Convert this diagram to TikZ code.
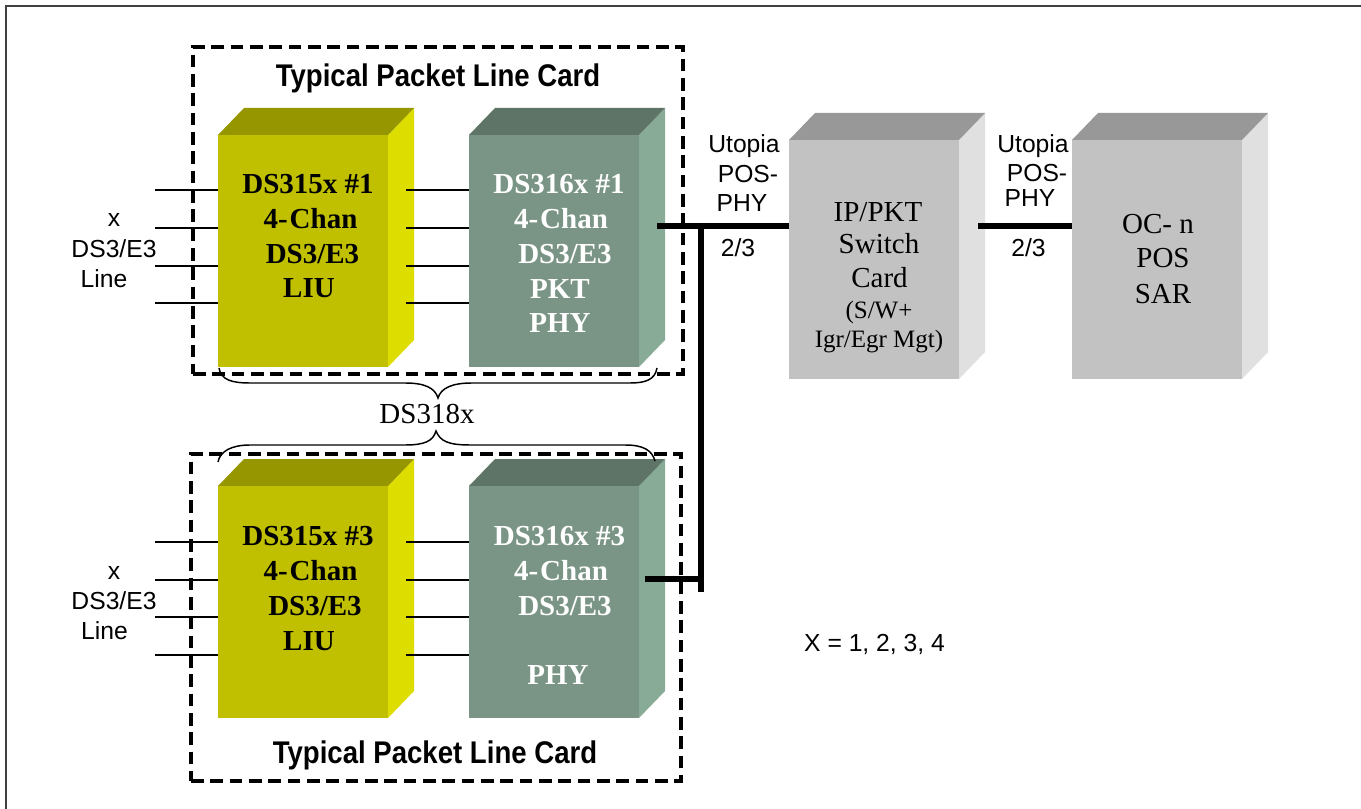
\documentclass[tikz,border=0pt]{standalone}
\usepackage{graphicx}
\usepackage{fontspec}
\setmainfont{Liberation Serif}
\newfontfamily\arialf{Liberation Sans}
\definecolor{yfront}{HTML}{C0C000}
\definecolor{yside}{HTML}{DDDD00}
\definecolor{ytop}{HTML}{969600}
\definecolor{gfront}{HTML}{7A9585}
\definecolor{gside}{HTML}{88AB97}
\definecolor{gtop}{HTML}{5E7466}
\definecolor{sfront}{HTML}{C2C2C2}
\definecolor{sside}{HTML}{E0E0E0}
\definecolor{stop}{HTML}{989898}
\definecolor{framec}{HTML}{404040}
\tikzset{
  front/.style={rectangle,inner sep=0pt,outer sep=0pt,anchor=north west,minimum width=127.5pt},
  txt/.style={inner sep=0pt,outer sep=0pt,anchor=base},
  chipb/.style={txt,font=\bfseries\fontsize{21.75}{26}\selectfont,text=black},
  chipw/.style={txt,font=\bfseries\fontsize{21.75}{26}\selectfont,text=white},
  chipn/.style={txt,font=\fontsize{21.75}{26}\selectfont,text=black},
  small/.style={txt,font=\fontsize{18.75}{23}\selectfont,text=black},
  sans/.style={txt,font=\arialf\fontsize{18.5}{22}\selectfont,text=black},
  head/.style={txt,font=\arialf\bfseries\fontsize{23.5}{28}\selectfont,text=black},
  thin line/.style={draw=black,line width=1.1pt},
  thick line/.style={draw=black,line width=4.6pt},
  card/.style={draw=black,line width=2.4pt,dash pattern=on 9.5pt off 5pt},
  brace/.style={draw=black,line width=1.1pt},
}
% \chipblock{name}{x}{y front top}{height px}{front}{side}{top}
\newcommand{\chipblock}[7]{%
  \fill[#6] (#2+170,#3) -- (#2+196,#3-27) -- (#2+196,#3+#4-27) -- (#2+170,#3+#4) -- cycle;
  \fill[#7] (#2,#3) -- (#2+26,#3-27) -- (#2+196,#3-27) -- (#2+170,#3) -- cycle;
  \node[front,fill=#5,minimum height=#4*.75pt] (#1) at (#2,#3) {};
}
\begin{document}
\begin{tikzpicture}[x=.75pt,y=-.75pt]
\useasboundingbox (0,0) rectangle (1361,809);
\fill[white] (0,0) rectangle (1361,809);
% outer frame
\coordinate (fa) at (5.5,809);
\coordinate (fb) at (5.5,6);
\coordinate (fc) at (1361,6);
\draw[framec,line width=1.5pt] (fa) -- (fb) -- (fc);
% blocks
\chipblock{y1}{218}{135}{232}{yfront}{yside}{ytop}
\chipblock{g1}{469}{135}{232}{gfront}{gside}{gtop}
\chipblock{y3}{218}{486}{232}{yfront}{yside}{ytop}
\chipblock{g3}{469}{486}{232}{gfront}{gside}{gtop}
\chipblock{sw}{789}{140}{239}{sfront}{sside}{stop}
\chipblock{sar}{1072}{140}{239}{sfront}{sside}{stop}
% dashed cards
\node[inner sep=0pt,outer sep=0pt,card,anchor=north west,minimum width=367.5pt,minimum height=245.25pt] (card1) at (193,47) {};
\node[inner sep=0pt,outer sep=0pt,card,anchor=north west,minimum width=367.5pt,minimum height=245.25pt] (card3) at (191,454) {};
% line stubs
\foreach \n/\yy in {a/190,b/228,c/266,d/303}{
  \coordinate (l1\n) at (155,\yy);
  \coordinate (m1\n) at (406,\yy);
  \draw[thin line] (l1\n) -- (y1.west |- l1\n);
  \draw[thin line] (m1\n) -- (g1.west |- m1\n);
}
\foreach \n/\yy in {a/542,b/580,c/617,d/655}{
  \coordinate (l3\n) at (155,\yy);
  \coordinate (m3\n) at (406,\yy);
  \draw[thin line] (l3\n) -- (y3.west |- l3\n);
  \draw[thin line] (m3\n) -- (g3.west |- m3\n);
}
% thick buses
\coordinate (t1) at (657,226);
\coordinate (j1) at (701,226);
\coordinate (jend) at (701,591.5);
\coordinate (t3) at (645,579);
\coordinate (t2) at (978,226);
\draw[thick line] (t1) -- (sw.west |- t1);
\draw[thick line] (j1) -- (jend);
\draw[thick line] (t3) -- (j1 |- t3);
\draw[thick line] (t2) -- (sar.west |- t2);
% braces
\coordinate (b1l) at (219,368);
\coordinate (b1t) at (438,398);
\coordinate (b1r) at (657,368);
\draw[brace] (b1l) .. controls (221,380) and (232,383) .. (250,383) -- (405,383) .. controls (425,383) and (435,388) .. (b1t) .. controls (441,388) and (452,383) .. (472,383) -- (630,383) .. controls (645,383) and (655,380) .. (b1r);
\coordinate (b3l) at (218,462);
\coordinate (b3t) at (436,431);
\coordinate (b3r) at (655,461);
\draw[brace] (b3l) .. controls (220,451) and (232,445) .. (250,445) -- (405,445) .. controls (425,445) and (433,441) .. (b3t) .. controls (440,441) and (448,445) .. (470,445) -- (625,445) .. controls (643,445) and (652,450) .. (b3r);
% texts
\node[head] (h1) at (438,87) {\scalebox{.88}[1]{Typical Packet Line Card}};
\node[head] (h3) at (435,763) {\scalebox{.88}[1]{Typical Packet Line Card}};
\node[chipb] (y1a) at (308,193.5) {DS315x \#1};
\node[chipb] (y1b) at (310.5,228.5) {4-\kern1.5pt Chan};
\node[chipb] (y1c) at (312.5,263.5) {DS3/E3};
\node[chipb] (y1d) at (309,297.5) {LIU};
\node[chipw] (g1a) at (559,193.5) {DS316x \#1};
\node[chipw] (g1b) at (561,228.5) {4-\kern1.5pt Chan};
\node[chipw] (g1c) at (565,263.5) {DS3/E3};
\node[chipw] (g1d) at (560,299) {PKT};
\node[chipw] (g1e) at (560,332.5) {PHY};
\node[chipb] (y3a) at (308,545) {DS315x \#3};
\node[chipb] (y3b) at (310.5,580) {4-\kern1.5pt Chan};
\node[chipb] (y3c) at (315,615) {DS3/E3};
\node[chipb] (y3d) at (309,650) {LIU};
\node[chipw] (g3a) at (559.5,545) {DS316x \#3};
\node[chipw] (g3b) at (561,580) {4-\kern1.5pt Chan};
\node[chipw] (g3c) at (565,615) {DS3/E3};
\node[chipw] (g3d) at (558,684) {PHY};
\node[sans] (x1) at (114,227) {x};
\node[sans] (x1b) at (114,258) {DS3/E3};
\node[sans] (x1c) at (104,288) {Line};
\node[sans] (x3) at (114,579) {x};
\node[sans] (x3b) at (114,609) {DS3/E3};
\node[sans] (x3c) at (104.5,639) {Line};
\node[chipn] (ds) at (427,423) {DS318x};
\node[sans] (u1) at (744,153) {Utopia};
\node[sans] (u1b) at (748,183) {POS-};
\node[sans] (u1c) at (742,212) {PHY};
\node[sans] (u1d) at (738,257) {2/3};
\node[sans] (u2) at (1033,153) {Utopia};
\node[sans] (u2b) at (1037,182) {POS-};
\node[sans] (u2c) at (1030,207) {PHY};
\node[sans] (u2d) at (1028.5,257) {2/3};
\node[chipn] (s1) at (878,221.5) {IP/PKT};
\node[chipn] (s2) at (879,253.5) {Switch};
\node[chipn] (s3) at (879.5,287.5) {Card};
\node[small] (s4) at (879,319) {(S/W+};
\node[small] (s5) at (879,348) {Igr/Egr Mgt)};
\node[chipn] (o1) at (1158,233.5) {OC- n};
\node[chipn] (o2) at (1163,267.5) {POS};
\node[chipn] (o3) at (1163,303.5) {SAR};
\node[sans] (xx) at (874.5,651) {X = 1, 2, 3, 4};
\end{tikzpicture}
\end{document}
